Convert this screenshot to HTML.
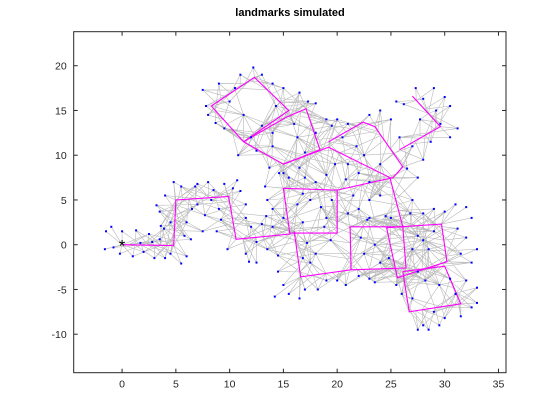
<!DOCTYPE html>
<html><head><meta charset="utf-8">
<style>
html,body{margin:0;padding:0;background:#fff;}
svg{display:block;font-family:"Liberation Sans",sans-serif;}
</style></head>
<body>
<svg id="chart" width="560" height="420" viewBox="0 0 560 420">
<rect x="0" y="0" width="560" height="420" fill="#fff"/>
<text x="290" y="16" text-anchor="middle" font-size="11" font-weight="bold" fill="#000">landmarks simulated</text>
<g id="edges"></g>
<g id="traj"></g>
<g id="marks"></g>
<g id="axes"></g>
</svg>
<script>
// ---- data ----
const xTicks = [0,5,10,15,20,25,30,35];
const yTicks = [-10,-5,0,5,10,15,20];
const trajectorySegments = [
 [[0,0],[4.8,-0.1],[5,5],[9.9,5.4],[10.6,0.6],[15.6,1.2],[15.0,6.3],[20,6.1],[20,1.3],[15.6,1.3]],
 [[16.0,1.5],[16.6,-3.6],[21.3,-2.8],[21.2,2.0],[26.1,2.0],[26.4,-2.6],[21.3,-2.8]],
 [[24.6,1.9],[29.7,2.3],[30.2,-1.9],[25.6,-3.7],[24.6,1.9]],
 [[26.1,-3.0],[30,-2.4],[31.5,-6.6],[26.7,-7.5],[26.1,-3.0]],
 [[26.1,2.0],[24.9,7.5],[19.2,10.9],[15,9],[11.3,11.5],[8.3,15.5],[12.3,18.7],[15.5,15.0],[11.3,11.5]],
 [[11.3,11.5],[15.2,14.2],[17.1,15.2],[18.4,10.6],[15,9]],
 [[19.2,11.5],[22.4,13.7],[23.5,13.2],[26.1,8.7],[25.2,7.5],[20,6.1]],
 [[25.8,10.6],[29.6,13.2],[27,16.6]]
];
const landmarkX = [-1.5,-1.6,-0.8,-1,0,-0.2,1,1.3,2,2.5,3,3.5,4,4.5,3.9,5.8,6,5.5,4.5,2.8,1.7,
 3.5,4,3.2,6,6.5,5.5,4.8,6.8,7.5,7,6.4,3.6,
 7,8.3,8,9.5,10.7,11,11.5,9,7.7,10.3,8.5,
 11.5,12,9.2,8.8,9.8,11.5,12.5,11.8,
 13,14,13.5,14.5,12.5,15,16.8,17.2,16.8,
 13.5,14,13.3,16.3,16.8,14.6,15.5,13.4,
 17,18,19,19.5,17.5,20.8,21.5,18.5,
 19,21,18.8,22,19.4,
 14.5,15,15.5,17,18.2,14.2,16.5,19,20,20.8,17.5,18,22,22.5,23,23.5,22.2,23.5,
 24,24.8,25,23,24.5,26.8,27,27.5,22.8,
 28,29,30,31,32,32.5,31.2,32,33,32.5,31.5,28,28.5,29,27.5,28.2,29.5,30.5,32,33,33,32.5,31.5,30,29,28,28.5,27.5,29.5,27,26,25.5,31,
 21,22,22.5,23,24,20.5,21,23,24,25,25.8,27,26.5,27.5,28,27,24,23,21.8,19.8,20,
 7.5,7.8,8,8.7,9.5,10,9,10.5,11,12.2,13,14,15,16.5,17.3,16,13,14,12,10.8,12.5,14,13.7,15,16.5,17,18,19,19.5,16.3,18,14.3,11.3,
 27.3,28,29,30,30.5,29.2,29.6,30.5,28.7,27.7,26.2,31.2,25.5];
const landmarkY = [1.5,-0.5,-0.3,2,1.5,-1,-1.3,1.6,-0.8,1.2,-1.5,0.6,-1.5,2.5,1.8,1,-1.3,-2.1,-1,0.3,0.2,
 3.7,5.5,4.4,2.5,4,6.5,7,6.5,1.5,4.5,0.6,2.1,
 6.8,5,7,6.8,7.2,6,4.5,4,3.3,6.3,6.1,
 3,2,2.8,1.5,-0.5,-1,0.3,-1.9,
 2.3,2,-0.5,-1.2,-2,3,2.5,0.2,-1.5,
 5,4,6.5,4.5,5.7,8,7.5,3.2,
 7.5,7,7.8,5,5,7.3,5.5,4.2,
 3,3.5,2,4,0.5,
 -3,-4.5,-5.5,-5,-5,-5.8,-6,-4,-4,-4.5,-2,-1,-3.5,-1,-3.8,-4.2,0.8,0,
 -2,-1.5,3,3,3.2,3.5,-0.5,1,2.8,
 3.5,4,3.7,4.5,4.2,3,1.8,0.8,-0.5,-2,-1,0.5,-0.5,1.5,-3,-4,-4.5,-3.8,-4,-4.8,-6.5,-7,-8,-8.2,-7.5,-9,-9.5,-9.5,-9,-6,-5.5,-4.5,-5.5,
 9,8,10,7,9,12,13.5,14.5,15,14,12,11,8.5,7.5,9.5,5,5.5,5,11,9,14,
 17.3,15.5,14.5,13.6,13,16,18,17.5,19,19.8,19,18,17.5,17,16,13.5,13.3,12.5,12,10,10.5,11,8.6,8,8.6,10.3,12.5,14,13.3,12,15.8,15.5,14.5,
 17.5,16.3,17.5,16.5,15.5,15,13.5,12,11.5,14,15.7,13,16];

// ---- axes geometry ----
const L=73.7,R=506,T=31.7,B=372.7;
const xmin=-4.5,xmax=35.7,ymin=-14.3,ymax=23.8;
const sx=v=>L+(v-xmin)/(xmax-xmin)*(R-L);
const sy=v=>B-(v-ymin)/(ymax-ymin)*(B-T);
const NS="http://www.w3.org/2000/svg";
function mk(tag,attrs,parent){const e=document.createElementNS(NS,tag);for(const k in attrs)e.setAttribute(k,attrs[k]);parent.appendChild(e);return e;}

// densified poses along trajectory
const poses=[];
trajectorySegments.forEach(seg=>{
 for(let i=0;i<seg.length-1;i++){
  const a=seg[i],b=seg[i+1];const d=Math.hypot(b[0]-a[0],b[1]-a[1]);const n=Math.max(1,Math.round(d/0.6));
  for(let k=0;k<n;k++){poses.push([a[0]+(b[0]-a[0])*k/n,a[1]+(b[1]-a[1])*k/n]);}
 }
});

// edges
const eg=document.getElementById('edges');
let ed='';
for(let i=0;i<landmarkX.length;i++){
 const lx=landmarkX[i],ly=landmarkY[i];
 const near=poses.map(p=>[Math.hypot(p[0]-lx,p[1]-ly),p]).filter(q=>q[0]<3.4).sort((a,b)=>a[0]-b[0]);
 for(let j=0;j<near.length;j+=3){const p=near[j][1];
  ed+=`M${sx(lx).toFixed(1)} ${sy(ly).toFixed(1)}L${sx(p[0]).toFixed(1)} ${sy(p[1]).toFixed(1)}`;}
}
const edgePath=mk('path',{d:ed,stroke:'#8a8a8a','stroke-opacity':'0.6','stroke-width':'0.6',fill:'none'},eg);



// trajectory
const tg=document.getElementById('traj');
trajectorySegments.forEach((seg,i)=>{
 const pl=mk('polyline',{points:seg.map(p=>sx(p[0]).toFixed(1)+','+sy(p[1]).toFixed(1)).join(' '),stroke:'#ff00ff','stroke-width':'1.1',fill:'none'},tg);
 
 
});

// landmarks
const mg=document.getElementById('marks');
for(let i=0;i<landmarkX.length;i++){
 const r=mk('rect',{x:(sx(landmarkX[i])-1).toFixed(1),y:(sy(landmarkY[i])-1).toFixed(1),width:2,height:2,fill:'#0000ff'},mg);
 
 
}
// start marker
const st=mk('text',{x:sx(0),y:sy(0)+7,'text-anchor':'middle','font-size':'17',fill:'#000'},mg);
st.textContent='*';



// axes
const ag=document.getElementById('axes');
const box=mk('rect',{x:L,y:T,width:R-L,height:B-T,fill:'none',stroke:'#262626','stroke-width':'1'},ag);


xTicks.forEach(v=>{
 const x=sx(v);
 mk('line',{x1:x,x2:x,y1:B,y2:B-4,stroke:'#262626'},ag);
 mk('line',{x1:x,x2:x,y1:T,y2:T+4,stroke:'#262626'},ag);
 const t=mk('text',{x:x,y:B+15,'text-anchor':'middle','font-size':'10.5',fill:'#262626'},ag);
 t.textContent=v;
 
 
});
yTicks.forEach(v=>{
 const y=sy(v);
 mk('line',{x1:L,x2:L+4,y1:y,y2:y,stroke:'#262626'},ag);
 mk('line',{x1:R,x2:R-4,y1:y,y2:y,stroke:'#262626'},ag);
 const t=mk('text',{x:L-7,y:y+4,'text-anchor':'end','font-size':'10.5',fill:'#262626'},ag);
 t.textContent=v;
 
 
});
</script>
</body></html>
